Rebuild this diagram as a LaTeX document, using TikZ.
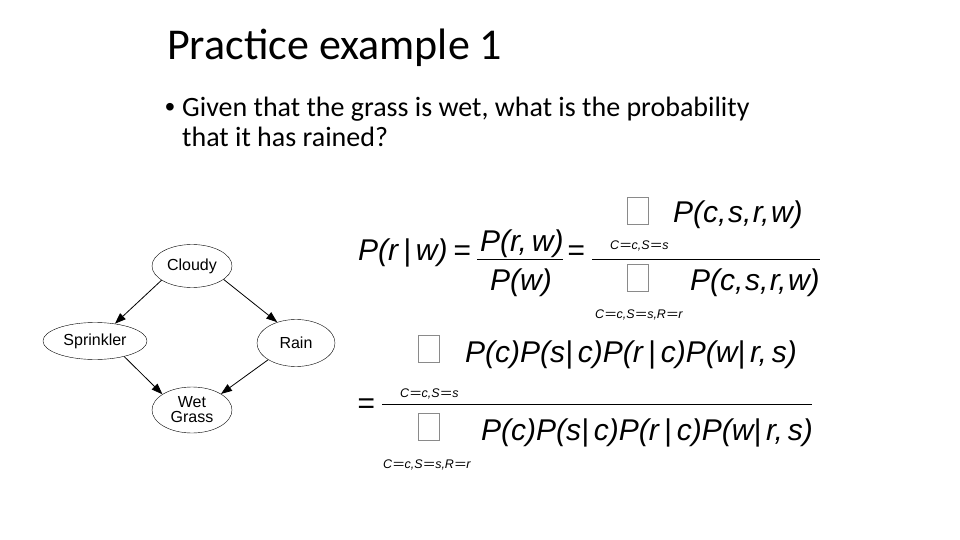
\documentclass[tikz,border=0pt]{standalone}
\usepackage{fontspec}
\setmainfont{Carlito}
\newfontfamily\formulafont{Liberation Sans}
\definecolor{InkBlack}{HTML}{000000}
\definecolor{BoxGray}{HTML}{8A8A8A}
\usetikzlibrary{arrows.meta, positioning, shapes.geometric}
\newcommand{\idxeq}{\kern0.4pt\scalebox{1.6}[1]{=}\kern0.4pt}
\tikzset{
  varnode/.style={draw=InkBlack, ellipse, fill=white, align=center, inner sep=0pt, font=\formulafont\fontsize{16}{15}\selectfont},
  edgearrow/.style={-{Triangle[length=11pt, width=8pt]}, line width=0.8pt, draw=InkBlack},
  term/.style={anchor=base west, inner sep=0pt, font=\formulafont\itshape\fontsize{30}{32}\selectfont},
  sumidx/.style={anchor=base west, inner sep=0pt, font=\formulafont\itshape\fontsize{12.5}{14}\selectfont},
  sumbox/.style={draw=BoxGray, line width=0.6pt, inner sep=0pt, minimum width=21pt, minimum height=27pt, anchor=north west},
  fracbar/.style={line width=1pt, draw=InkBlack}
}

\begin{document}
\begin{tikzpicture}[x=1pt, y=-1pt,
  slidetext/.style={anchor=base west, inner sep=0pt, font=\fontsize{28}{30}\selectfont}
]
\useasboundingbox (0,0) rectangle (960,540);

% title and question
\node[anchor=base west, inner sep=0pt, font=\fontsize{44}{48}\selectfont] (title) at (167,60) {Practice example 1};
\node[slidetext, font=\formulafont\fontsize{28}{30}\selectfont] (bullet) at (165,117) {\textbullet};
\node[slidetext] (qline1) at (182,117) {Given that the grass is wet, what is the probability};
\node[slidetext] (qline2) at (182,147) {that it has rained?};

% network
\node[varnode, minimum width=80pt, minimum height=43pt] (cloudy) at (192,266) {Cloudy};
\node[varnode, minimum width=104pt, minimum height=37pt] (sprinkler) at (95,341) {Sprinkler};
\node[varnode, minimum width=78pt, minimum height=47pt] (rain) at (296,343) {Rain};
\node[varnode, minimum width=80pt, minimum height=46pt] (wetgrass) at (192,410) {Wet\\Grass};

\draw[edgearrow] (cloudy.205) -- (sprinkler.41);
\draw[edgearrow] (cloudy.337) -- (rain.132);
\draw[edgearrow] (sprinkler.332) -- (wetgrass.152);
\draw[edgearrow] (rain.211) -- (wetgrass.29);

% first line of the derivation
\node[term] (lhs) at (358,260) {P(r\,|\,w)};
\node[term] (eqa) at (453,260) {=};
\node[term] (numrw) at (480,251) {P(r,\,w)};
\node[term] (denw) at (490,290) {P(w)};
\draw[fracbar] (477,259) -- (563,259);
\node[term] (eqb) at (567,260) {=};
\node[sumbox] (sumtop) at (627,197) {};
\node[term] (jointtop) at (673,222) {P(c,\kern1.5pt s,\kern1.5pt r,\kern1.5pt w)};
\node[sumidx] (idxtop) at (610,249) {C\idxeq c,S\idxeq s};
\draw[fracbar] (592,259) -- (820,259);
\node[sumbox] (sumbot) at (627,264) {};
\node[term] (jointbot) at (690,290) {P(c,\kern1.5pt s,\kern1.5pt r,\kern1.5pt w)};
\node[sumidx] (idxbot) at (595,318) {C\idxeq c,S\idxeq s,R\idxeq r};

% second line
\node[term] (eqc) at (357,413) {=};
\node[sumbox] (sumnum) at (418,335) {};
\node[term] (factnum) at (465,362) {P(c)P(s|\,c)P(r\,|\,c)P(w|\,r,\,s)};
\node[sumidx] (idxnum) at (400,397) {C\idxeq c,S\idxeq s};
\draw[fracbar] (382,404) -- (812,404);
\node[sumbox] (sumden) at (418,413) {};
\node[term] (factden) at (481,440) {P(c)P(s|\,c)P(r\,|\,c)P(w|\,r,\,s)};
\node[sumidx] (idxden) at (383,468) {C\idxeq c,S\idxeq s,R\idxeq r};
\end{tikzpicture}
\end{document}
